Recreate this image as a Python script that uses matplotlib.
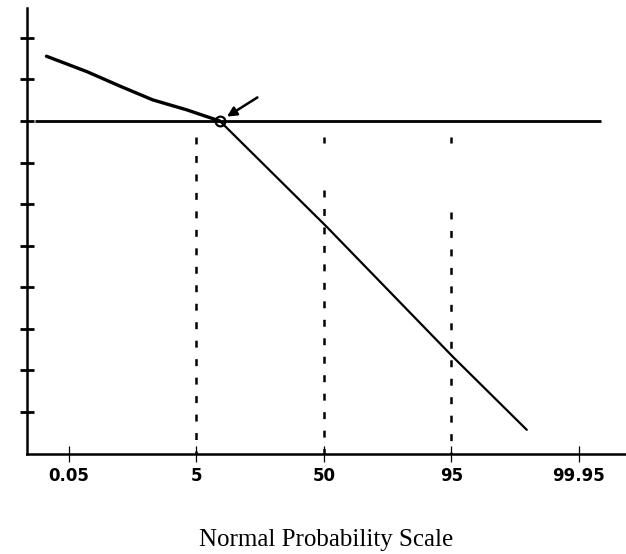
import numpy as np
import matplotlib
matplotlib.use('Agg')
import matplotlib.pyplot as plt
from matplotlib.ticker import NullLocator
from statistics import NormalDist

plt.rcParams['lines.scale_dashes'] = False

# ---------------- data ----------------
tick_percents = [0.05, 5, 50, 95, 99.95]
tick_labels = ['0.05', '5', '50', '95', '99.95']
y_ticks = [1, 2, 3, 4, 5, 6, 7, 8, 9, 10]

upper_p = [0.0172, 0.111, 0.427, 1.36, 3.84, 9.0]
upper_y = [9.56, 9.19, 8.84, 8.51, 8.27, 8.0]
lower_p = [9.0, 51.4, 95.2, 99.56]
lower_y = [8.0, 5.46, 2.33, 0.57]
ref_level = 8.0
ref_p = [0.0096, 99.983]
cross_p = 9.0
drop_p = [5, 50, 95]

# ---------------- scale ----------------
_nd = NormalDist()
_inv_cdf = np.vectorize(_nd.inv_cdf, otypes=[float])
_cdf = np.vectorize(_nd.cdf, otypes=[float])


def fwd(p):
    p = np.clip(np.asarray(p, float) / 100.0, 1e-12, 1 - 1e-12)
    return _inv_cdf(p)


def inv(z):
    return _cdf(np.asarray(z, float)) * 100.0


W, H = 626, 554
fig = plt.figure(figsize=(W / 100, H / 100), dpi=100)
ax_left, ax_bottom_px, ax_top_px = 27, 453.5, 8
ax = fig.add_axes([ax_left / W, (H - ax_bottom_px) / H, 1 - ax_left / W,
                   (ax_bottom_px - ax_top_px) / H])
ax.set_xscale('function', functions=(fwd, inv))
ax.set_xlim(0.0064, 99.9952)
ax.set_ylim(0, 10.72)

for s in ('top', 'right'):
    ax.spines[s].set_visible(False)
for s in ('left', 'bottom'):
    ax.spines[s].set_linewidth(1.8)

ax.set_xticks(tick_percents)
ax.set_xticklabels(tick_labels, fontsize=12, fontweight='bold', family='DejaVu Sans')
ax.xaxis.set_minor_locator(NullLocator())
ax.tick_params(axis='x', direction='inout', length=12, width=0.9, pad=4)
ax.set_yticks(y_ticks)
ax.set_yticklabels([])
ax.yaxis.set_minor_locator(NullLocator())
ax.tick_params(axis='y', direction='inout', length=10, width=2)

# reference horizontal line
ax.plot(ref_p, [ref_level, ref_level], color='black', lw=2.0, solid_capstyle='butt')
# upper curve
ax.plot(upper_p, upper_y, color='black', lw=2.4, solid_capstyle='round',
        solid_joinstyle='round')
# lower line
ax.plot(lower_p, lower_y, color='black', lw=1.6, solid_capstyle='round')
# crossing circle
ax.plot([cross_p], [ref_level], marker='o', ms=7, mfc='none', mec='black', mew=1.6)

# dotted drop lines
dash = (0, (5.0, 8.3))
ax.plot([drop_p[0], drop_p[0]], [7.62, 0], color='black', lw=1.8, linestyle=dash)
for p, y_start in zip(drop_p[1:], [6.34, 5.81]):
    ax.plot([p, p], [7.62, 7.47], color='black', lw=1.8, solid_capstyle='butt')
    ax.plot([p, p], [y_start, 0], color='black', lw=1.8, linestyle=dash)

# arrow pointing to the crossing
ax.annotate('', xy=(cross_p, ref_level), xycoords='data',
            xytext=(27, 17), textcoords='offset points',
            arrowprops=dict(arrowstyle='-|>', color='black', lw=1.8,
                            shrinkA=0, shrinkB=6, mutation_scale=14))

fig.text(326 / W, 1 - 546 / H, 'Normal Probability Scale', ha='center', va='baseline',
         fontsize=18, family='Liberation Serif')

fig.savefig('out.png', dpi=100)
